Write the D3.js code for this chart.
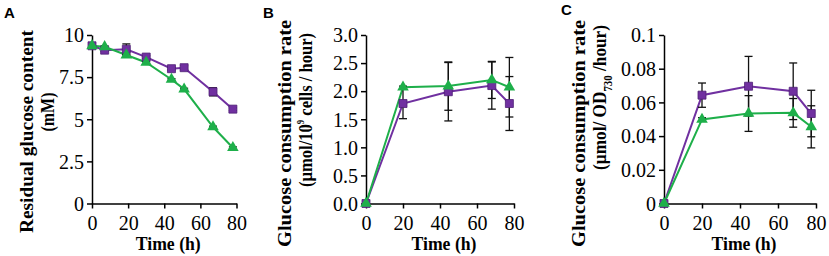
<!DOCTYPE html>
<html lang="en">
<head>
<meta charset="UTF-8">
<title>Glucose</title>
<style>
  body { margin: 0; background: #fff; }
  svg { display: block; }
  .domain, .tick line { stroke: #000; stroke-width: 1.5px; }
</style>
</head>
<body>
<div id="chart"></div>
<script src="https://d3js.org/d3.v7.min.js"></script>
<script>
// panel A: residual glucose
const timeA = [0, 7, 19, 30, 44, 51, 67, 78]
const glcPurple = [9.36, 9.1, 9.15, 8.69, 8.0, 8.06, 6.63, 5.6]
const glcPurpleErr = [0.08, 0.08, 0.32, 0.08, 0.08, 0.12, 0.24, 0.08]
const glcGreen = [9.36, 9.3, 8.81, 8.37, 7.36, 6.79, 4.54, 3.31]
const glcGreenErr = [0.05, 0.05, 0.05, 0.05, 0.05, 0.05, 0.05, 0.05]

// panel B/C: consumption rate
const timeBC = [0, 20, 44.5, 68, 77.5]
const rateCellPurple = [0, 1.78, 1.99, 2.10, 1.78]
const rateCellPurpleErr = [0, 0.27, 0.52, 0.42, 0.48]
const rateCellGreen = [0, 2.07, 2.09, 2.20, 2.07]
const rateCellGreenErr = [0, 0.02, 0.43, 0.33, 0.53]
const rateOdPurple = [0, 0.0643, 0.0696, 0.0666, 0.0534]
const rateOdPurpleErr = [0, 0.0072, 0.0177, 0.0168, 0.0138]
const rateOdGreen = [0, 0.0499, 0.0534, 0.0538, 0.0455]
const rateOdGreenErr = [0, 0.001, 0.0106, 0.0085, 0.0125]

const xTicks = [0, 20, 40, 60, 80]
const yTicksA = [0, 2.5, 5, 7.5, 10]
const yLabelsA = ['0', '2.5', '5', '7.5', '10']
const yTicksB = [0, 0.5, 1, 1.5, 2, 2.5, 3]
const yLabelsB = ['0.0', '0.5', '1.0', '1.5', '2.0', '2.5', '3.0']
const yTicksC = [0, 0.02, 0.04, 0.06, 0.08, 0.1]
const yLabelsC = ['0', '0.02', '0.04', '0.06', '0.08', '0.1']

const purple = '#7030a0'
const green = '#1eaf4a'
const serif = '"Liberation Serif", "Times New Roman", serif'

const svg = d3.select('#chart').append('svg')
  .attr('width', 829).attr('height', 256)

function panel(opt) {
  const x = d3.scaleLinear().domain([0, 80]).range([opt.x0, opt.x1])
  const y = d3.scaleLinear().domain(opt.yDomain).range([203.5, 35])
  const g = svg.append('g')

  const xa = g.append('g')
    .attr('transform', `translate(0,${y(0)})`)
    .call(d3.axisBottom(x).tickValues(xTicks).tickSize(5).tickSizeOuter(0).tickPadding(7))
  const ya = g.append('g')
    .attr('transform', `translate(${x(0)},0)`)
    .call(d3.axisLeft(y).tickValues(opt.yTicks).tickFormat((d, i) => opt.yLabels[i])
      .tickSize(5).tickSizeOuter(0).tickPadding(3))
  ;[xa, ya].forEach(a => {
    a.attr('font-family', serif).attr('font-size', 20)
    a.selectAll('text').style('font-family', serif).style('font-size', '20px').attr('fill', '#000')
  })
  ya.selectAll('text').attr('dy', '0.34em')

  const series = [
    { v: opt.purple, e: opt.purpleErr, c: purple, m: 'square' },
    { v: opt.green, e: opt.greenErr, c: green, m: 'triangle' }
  ]
  const line = d3.line().x((d, i) => x(opt.t[i])).y(d => y(d))

  series.forEach(s => {
    g.append('path').datum(s.v)
      .attr('d', line).attr('fill', 'none')
      .attr('stroke', s.c).attr('stroke-width', 2)
  })
  // error bars
  series.forEach(s => {
    const eb = g.append('g').attr('stroke', '#111').attr('stroke-width', 1.3)
    s.v.forEach((v, i) => {
      if (!s.e[i]) return
      const cx = x(opt.t[i])
      eb.append('line').attr('x1', cx).attr('x2', cx).attr('y1', y(v - s.e[i])).attr('y2', y(v + s.e[i]))
      eb.append('line').attr('x1', cx - 4).attr('x2', cx + 4).attr('y1', y(v + s.e[i])).attr('y2', y(v + s.e[i]))
      eb.append('line').attr('x1', cx - 4).attr('x2', cx + 4).attr('y1', y(v - s.e[i])).attr('y2', y(v - s.e[i]))
    })
  })
  series.forEach(s => {
    const sym = d3.symbol().type(s.m === 'square' ? d3.symbolSquare : d3.symbolTriangle).size(s.m === 'square' ? 64 : 58)
    g.append('g').selectAll('path').data(s.v).join('path')
      .attr('d', sym)
      .attr('transform', (d, i) => `translate(${x(opt.t[i])},${y(d)})`)
      .attr('fill', s.c)
      .attr('stroke', s.m === 'square' ? '#4e1f75' : 'none')
      .attr('stroke-width', 0.8)
  })

  // titles
  const bold = g.append('g')
    .attr('font-family', serif)
    .attr('font-weight', 'bold')
    .attr('font-size', 19)
  bold.append('text')
    .attr('x', (opt.x0 + opt.x1) / 2 + 4).attr('y', 250)
    .attr('text-anchor', 'middle')
    .attr('font-size', 18)
    .attr('textLength', 65).attr('lengthAdjust', 'spacingAndGlyphs')
    .text('Time (h)')
  opt.yTitle.forEach(t => {
    const tx = bold.append('text')
      .attr('transform', `translate(${t.bx},${t.cy}) rotate(-90)`)
      .attr('text-anchor', 'middle')
      .attr('textLength', t.len).attr('lengthAdjust', 'spacingAndGlyphs')
    t.parts.forEach(p => {
      const ts = tx.append('tspan').text(p.s)
      if (p.dy) ts.attr('dy', p.dy)
      if (p.size) ts.attr('font-size', p.size)
    })
  })

  svg.append('text')
    .attr('x', opt.letterX).attr('y', opt.letterY)
    .attr('font-family', '"Liberation Sans", Arial, sans-serif')
    .attr('font-weight', 'bold').attr('font-size', 15)
    .text(opt.letter)
}

panel({
  letter: 'A', letterX: 4, letterY: 18,
  x0: 92, x1: 236.5, yDomain: [0, 10], yTicks: yTicksA, yLabels: yLabelsA,
  t: timeA, purple: glcPurple, purpleErr: glcPurpleErr, green: glcGreen, greenErr: glcGreenErr,
  yTitle: [
    { bx: 33, cy: 131.5, len: 203, parts: [{ s: 'Residual glucose content' }] },
    { bx: 54, cy: 112, len: 39, parts: [{ s: '(mM)' }] }
  ]
})

panel({
  letter: 'B', letterX: 263, letterY: 18,
  x0: 366, x1: 514, yDomain: [0, 3], yTicks: yTicksB, yLabels: yLabelsB,
  t: timeBC, purple: rateCellPurple, purpleErr: rateCellPurpleErr, green: rateCellGreen, greenErr: rateCellGreenErr,
  yTitle: [
    { bx: 291, cy: 133.5, len: 227, parts: [{ s: 'Glucose consumption rate' }] },
    { bx: 312, cy: 110, len: 154, parts: [
      { s: '(µmol/10' }, { s: '9', size: 10, dy: -8 }, { s: ' cells / hour)', dy: 8 }
    ] }
  ]
})

panel({
  letter: 'C', letterX: 561, letterY: 15,
  x0: 664, x1: 816, yDomain: [0, 0.1], yTicks: yTicksC, yLabels: yLabelsC,
  t: timeBC, purple: rateOdPurple, purpleErr: rateOdPurpleErr, green: rateOdGreen, greenErr: rateOdGreenErr,
  yTitle: [
    { bx: 585, cy: 133.5, len: 227, parts: [{ s: 'Glucose consumption rate' }] },
    { bx: 606, cy: 97.5, len: 145, parts: [
      { s: '(µmol/ OD' }, { s: '730', size: 12, dy: 6 }, { s: ' /hour)', dy: -6 }
    ] }
  ]
})
</script>
</body>
</html>
